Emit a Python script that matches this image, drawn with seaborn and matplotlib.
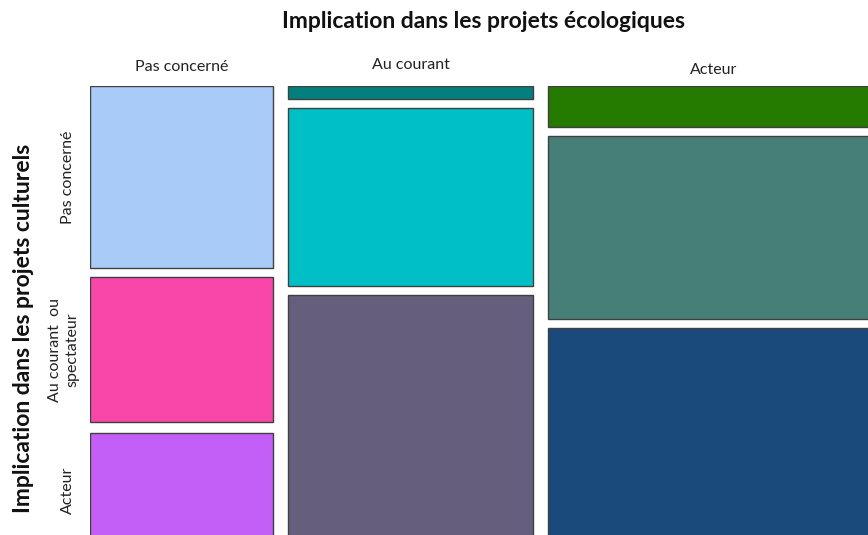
import matplotlib
matplotlib.use("Agg")
import matplotlib.pyplot as plt
import seaborn as sns
import numpy as np

# Data (conditional proportions read from the mosaic)
eco_cats = ["Pas concerné", "Au courant", "Acteur"]
eco_share = [0.2408, 0.3224, 0.4368]
cult_labels = ["Pas concerné", "Au courant  ou\nspectateur", "Acteur"]
share_pas_concerne = [0.413, 0.329, 0.258]
share_au_courant = [0.029, 0.404, 0.567]
share_acteur = [0.093, 0.415, 0.492]
colors_pas_concerne = ["#a9cbf7", "#f847a8", "#c35ff7"]
colors_au_courant = ["#017f7f", "#00bfc6", "#665e7d"]
colors_acteur = ["#257a00", "#467f77", "#1a4a7c"]

sns.set_theme(style="white")
plt.rcParams["font.family"] = ["Lato", "DejaVu Sans"]

W, H = 868, 535
fig = plt.figure(figsize=(W / 100, H / 100), dpi=100)
ax_l, ax_t, ax_w, ax_h = 90, 86, 790, 459
ax = fig.add_axes([ax_l / W, 1 - (ax_t + ax_h) / H, ax_w / W, ax_h / H])
gx, gy = 15, 9
ax.set_xlim(0, ax_w)
ax.set_ylim(ax_h, 0)

col_shares = [share_pas_concerne, share_au_courant, share_acteur]
col_colors = [colors_pas_concerne, colors_au_courant, colors_acteur]
avail_w = ax_w - gx * (len(eco_cats) - 1)
avail_h = ax_h - gy * 2
x = 0
xcenters = []
first_rows = []
for i, (share, shares, cols) in enumerate(zip(eco_share, col_shares, col_colors)):
    w = avail_w * share
    y = 0
    for j, (s, c) in enumerate(zip(shares, cols)):
        h = avail_h * s
        gap = gy + (2 if (i == 0 and j == 1) else 0)
        ax.bar(x, h, width=w, bottom=y, align="edge", color=c,
               edgecolor="#404040", linewidth=1.0)
        if i == 0:
            first_rows.append(y + h / 2)
        y += h + gap
    xcenters.append(x + w / 2)
    x += w + gx

for sp in ax.spines.values():
    sp.set_visible(False)
ax.set_xticks([])
ax.set_yticks([])

label_y = [67, 65, 70]
for xc, lab, ly in zip(xcenters, eco_cats, label_y):
    fig.text((ax_l + xc) / W, 1 - ly / H, lab, ha="center", va="center",
             fontsize=11.5, color="#222222")
label_x = [68, 64, 68]
for yc, lab, lx in zip(first_rows, cult_labels, label_x):
    fig.text(lx / W, 1 - (ax_t + yc) / H, lab, ha="center", va="center",
             rotation=90, fontsize=11.5, color="#222222", linespacing=1.3)

fig.text(484 / W, 1 - 22 / H, "Implication dans les projets écologiques",
         ha="center", va="center", fontsize=16.5, fontweight="bold", color="#111111")
fig.text(24 / W, 1 - 328 / H, "Implication dans les projets culturels",
         ha="center", va="center", rotation=90, fontsize=16.5, fontweight="bold",
         color="#111111")

fig.savefig("out.png", dpi=100)
